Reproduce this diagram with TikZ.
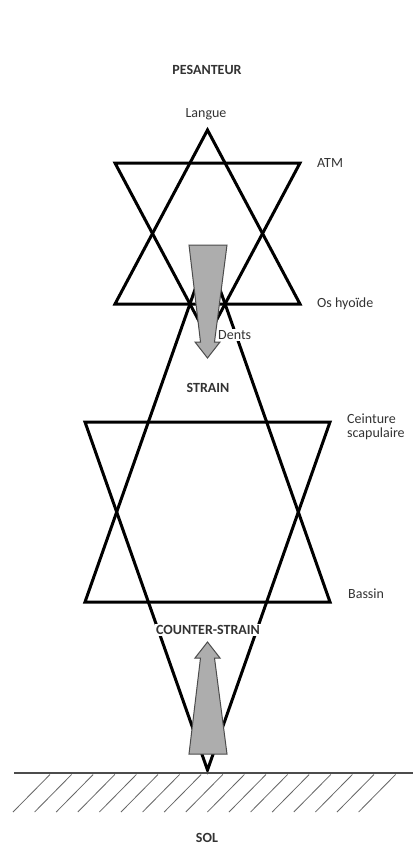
\documentclass[tikz,border=0pt]{standalone}
\usepackage{fontspec}
\setmainfont{Carlito}
\begin{document}
\begin{tikzpicture}[x=1pt,y=-1pt,
  lbl/.style={text=black!80, inner sep=1pt, font=\fontsize{14}{15.5}\selectfont},
  caplbl/.style={lbl, font=\fontsize{14}{15.5}\selectfont\bfseries},
  starline/.style={line width=3pt, line join=miter, black},
  bigarrow/.style={fill=black!32, draw=black!70, line width=1pt, line join=miter},
  hatch/.style={line width=0.8pt, black!60}]
\useasboundingbox[fill=white] (0,0) rectangle (416,847);

% top star
\draw[starline] (207.5,130) -- (300,304) -- (115,304) -- cycle;
\draw[starline] (115,163) -- (300,163) -- (207.5,337) -- cycle;
% bottom star
\draw[starline] (207.5,254) -- (330,602) -- (85,602) -- cycle;
\draw[starline] (85,422) -- (330,422) -- (207.5,770) -- cycle;

% ground
\draw[line width=1.2pt, black!70] (14,773) -- (413,773);
\foreach \i in {0,...,16}{
  \draw[hatch] ({50+21.6*\i},774.5) -- ({13+21.6*\i},812);
}

% arrows
\draw[bigarrow] (189,245) -- (227,245) -- (214.5,342) -- (220,342) -- (207.5,358) -- (195,342) -- (200.5,342) -- cycle;
\draw[bigarrow] (189,754) -- (227,754) -- (214.5,658) -- (220,658) -- (207.5,642) -- (195,658) -- (200.5,658) -- cycle;

% labels
\node[caplbl] (pes) at (207,70) {PESANTEUR};
\node[lbl] (langue) at (206,114) {Langue};
\node[lbl, anchor=west] (atm) at (316,163) {ATM};
\node[lbl, anchor=west] (os) at (316,304) {Os hyoïde};
\node[lbl, anchor=west, fill=white] (dents) at (217,335) {Dents};
\node[caplbl] (strain) at (208,388) {STRAIN};
\node[lbl, anchor=north west, align=left, inner sep=0pt] (ceint) at (347,414) {Ceinture\\[-2pt]scapulaire};
\node[lbl, anchor=west] (bassin) at (347,594) {Bassin};
\node[caplbl, fill=white] (counter) at (208,630) {COUNTER-STRAIN};
\node[caplbl] (sol) at (207,838) {SOL};
\end{tikzpicture}
\end{document}
